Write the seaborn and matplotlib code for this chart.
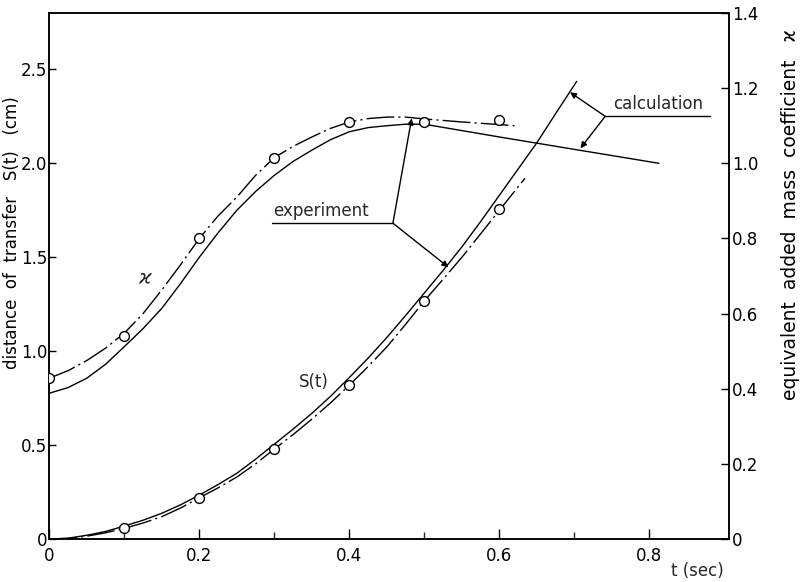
import numpy as np
import pandas as pd
import matplotlib
matplotlib.use("Agg")
import matplotlib.pyplot as plt
import seaborn as sns

# ---------------- data ----------------
# equivalent added mass coefficient (right axis)
kappa_calc_t = [0, 0.025, 0.05, 0.075, 0.1, 0.125, 0.15, 0.175, 0.2, 0.225, 0.25, 0.275, 0.3,
                0.325, 0.35, 0.375, 0.4, 0.425, 0.45, 0.475, 0.5, 0.6, 0.7, 0.8125]
kappa_calc = [0.388, 0.403, 0.428, 0.465, 0.512, 0.56, 0.614, 0.68, 0.75, 0.815, 0.875, 0.925, 0.968,
              1.005, 1.035, 1.063, 1.084, 1.095, 1.10, 1.104, 1.104, 1.07, 1.037, 1.0]

kappa_exp_line_t = [0, 0.025, 0.05, 0.075, 0.1, 0.125, 0.15, 0.175, 0.2, 0.225, 0.25, 0.275, 0.3,
                    0.325, 0.35, 0.375, 0.4, 0.425, 0.45, 0.475, 0.5, 0.55, 0.6, 0.62]
kappa_exp_line = [0.428, 0.448, 0.475, 0.508, 0.548, 0.60, 0.663, 0.73, 0.80, 0.86, 0.91, 0.968, 1.015,
                  1.045, 1.07, 1.093, 1.11, 1.119, 1.123, 1.123, 1.118, 1.11, 1.103, 1.10]

kappa_pts_t = [0, 0.1, 0.2, 0.3, 0.4, 0.5, 0.6]
kappa_pts = [0.428, 0.54, 0.80, 1.014, 1.109, 1.11, 1.115]

# distance of transfer S(t) (left axis, cm)
s_calc_t = [0, 0.025, 0.05, 0.075, 0.1, 0.125, 0.15, 0.175, 0.2, 0.225, 0.25, 0.275, 0.3, 0.325,
            0.35, 0.375, 0.4, 0.425, 0.45, 0.475, 0.5, 0.525, 0.55, 0.575, 0.6, 0.625, 0.65, 0.675, 0.703]
s_calc = [0, 0.004, 0.02, 0.04, 0.069, 0.10, 0.137, 0.182, 0.234, 0.29, 0.35, 0.425, 0.505, 0.585,
          0.669, 0.76, 0.86, 0.963, 1.073, 1.19, 1.31, 1.43, 1.555, 1.69, 1.83, 1.97, 2.11, 2.265, 2.436]

s_exp_line_t = [0, 0.025, 0.05, 0.075, 0.1, 0.125, 0.15, 0.175, 0.2, 0.225, 0.25, 0.275, 0.3, 0.325,
                0.35, 0.375, 0.4, 0.425, 0.45, 0.475, 0.5, 0.525, 0.55, 0.575, 0.6, 0.634]
s_exp_line = [0, 0.003, 0.015, 0.033, 0.057, 0.085, 0.119, 0.165, 0.22, 0.272, 0.33, 0.40, 0.479, 0.556,
              0.638, 0.725, 0.819, 0.918, 1.023, 1.143, 1.268, 1.383, 1.50, 1.625, 1.75, 1.92]

s_pts_t = [0.1, 0.2, 0.3, 0.4, 0.5, 0.6]
s_pts = [0.057, 0.22, 0.479, 0.819, 1.268, 1.755]

x_ticks = [0, 0.2, 0.4, 0.6, 0.8]
x_labels = ["0", "0.2", "0.4", "0.6", "0.8"]
x_minor = [0.1, 0.3, 0.5, 0.7]
yl_ticks = [0, 0.5, 1.0, 1.5, 2.0, 2.5]
yl_labels = ["0", "0.5", "1.0", "1.5", "2.0", "2.5"]
yr_ticks = [0, 0.2, 0.4, 0.6, 0.8, 1.0, 1.2, 1.4]
yr_labels = ["0", "0.2", "0.4", "0.6", "0.8", "1.0", "1.2", "1.4"]

# ---------------- style ----------------
sns.set_theme(style="white")
plt.rcParams["font.family"] = ["DejaVu Sans"]
plt.rcParams["axes.edgecolor"] = "black"
plt.rcParams["axes.linewidth"] = 1.1

fig = plt.figure(figsize=(8.04, 5.82), dpi=100)
ax = fig.add_axes([49.3 / 804, 43 / 582, (729 - 49.3) / 804, (539 - 13) / 582])
ax2 = ax.twinx()

LW = 1.0
DASHDOT = (0, (20, 3, 1.5, 3))

# S(t) curves on left axis
sns.lineplot(x=s_calc_t, y=s_calc, ax=ax, color="black", lw=LW, sort=False, estimator=None)
sns.lineplot(x=s_exp_line_t, y=s_exp_line, ax=ax, color="black", lw=LW, sort=False, estimator=None)
ax.lines[-1].set_linestyle(DASHDOT)
sns.scatterplot(x=s_pts_t, y=s_pts, ax=ax, s=50, facecolor="white", edgecolor="black",
                linewidth=1.0, zorder=5)

# kappa curves on right axis
sns.lineplot(x=kappa_calc_t, y=kappa_calc, ax=ax2, color="black", lw=LW, sort=False, estimator=None)
sns.lineplot(x=kappa_exp_line_t, y=kappa_exp_line, ax=ax2, color="black", lw=LW, sort=False, estimator=None)
ax2.lines[-1].set_linestyle(DASHDOT)
sns.scatterplot(x=kappa_pts_t, y=kappa_pts, ax=ax2, s=50, facecolor="white", edgecolor="black",
                linewidth=1.0, zorder=5)

# ---------------- axes ----------------
ax.set_xlim(0, 0.906)
ax.set_ylim(0, 2.8)
ax2.set_ylim(0, 1.4)

ax.set_xticks(x_ticks)
ax.set_xticklabels(x_labels)
ax.set_xticks(x_minor, minor=True)
ax.set_yticks(yl_ticks)
ax.set_yticklabels(yl_labels)
ax2.set_yticks(yr_ticks)
ax2.set_yticklabels(yr_labels)

ax.tick_params(axis="x", which="major", direction="in", length=7, width=1.0, labelsize=12,
               bottom=True, top=False, pad=6, colors="black")
ax.tick_params(axis="x", which="minor", direction="in", length=5, width=1.0, bottom=True, top=False)
ax.tick_params(axis="y", direction="in", length=5, width=1.0, labelsize=12, left=True, right=False,
               pad=1.5, colors="black")
ax2.tick_params(axis="y", direction="in", length=6, width=1.0, labelsize=12, right=True, left=False,
                pad=2, colors="black")

for a in (ax, ax2):
    for sp in a.spines.values():
        sp.set_visible(True)
        sp.set_color("black")
        sp.set_linewidth(1.1)

ax.set_xlabel("")
ax.set_ylabel("distance  of  transfer   S(t)   (cm)", fontsize=12, color="black")
ax.yaxis.set_label_coords(-0.042, 0.582)
ax2.set_ylabel("equivalent  added  mass  coefficient   ϰ", fontsize=13.5, color="black", rotation=90)
ax2.yaxis.set_label_coords(1.077, 0.616)
fig.text(697 / 804, 1 - 571 / 582, "t (sec)", fontsize=12, ha="center", va="center")

# ---------------- annotations ----------------
ax.text(0.127, 1.394, "ϰ", fontsize=14, style="italic", ha="center", va="center")
ax.text(0.352, 0.835, "S(t)", fontsize=12, ha="center", va="center")

ax.text(0.299, 1.70, "experiment", fontsize=12, ha="left", va="bottom")
ax.plot([0.297, 0.458], [1.681, 1.681], color="black", lw=LW)
arrow = dict(arrowstyle="-|>", lw=LW, color="black", mutation_scale=9, shrinkA=0, shrinkB=0)
ax.annotate("", xy=(0.483, 2.239), xytext=(0.458, 1.681), arrowprops=arrow)
ax.annotate("", xy=(0.532, 1.447), xytext=(0.458, 1.681), arrowprops=arrow)

ax.text(0.752, 2.27, "calculation", fontsize=12, ha="left", va="bottom")
ax.plot([0.741, 0.881], [2.25, 2.25], color="black", lw=LW)
ax.annotate("", xy=(0.694, 2.378), xytext=(0.741, 2.25), arrowprops=arrow)
ax.annotate("", xy=(0.708, 2.08), xytext=(0.741, 2.25), arrowprops=arrow)

fig.savefig("out.png", dpi=100, facecolor="white")
